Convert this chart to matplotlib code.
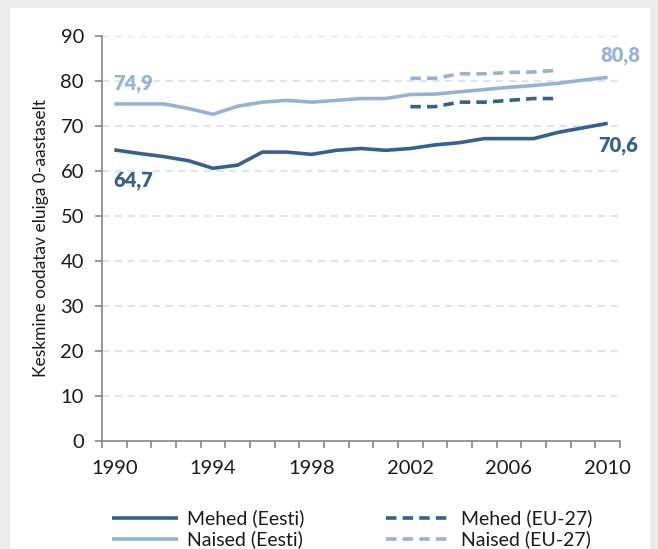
import matplotlib.pyplot as plt
import matplotlib.patches as mpatches
import numpy as np

plt.rcParams['font.family'] = ['Lato', 'DejaVu Sans']

# data
years = np.arange(1990, 2011)
mehed_eesti = [64.7, 63.9, 63.2, 62.3, 60.6, 61.3, 64.2, 64.2, 63.7, 64.6, 65.0,
               64.6, 65.0, 65.8, 66.3, 67.2, 67.2, 67.2, 68.6, 69.6, 70.6]
naised_eesti = [74.9, 74.9, 74.9, 73.9, 72.6, 74.4, 75.3, 75.7, 75.3, 75.7, 76.1,
                76.1, 77.0, 77.1, 77.6, 78.1, 78.6, 79.0, 79.5, 80.2, 80.8]
eu_years = np.arange(2002, 2009)
mehed_eu = [74.3, 74.3, 75.3, 75.3, 75.7, 76.1, 76.1]
naised_eu = [80.6, 80.6, 81.6, 81.6, 81.9, 82.0, 82.4]

dark = "#376092"
light = "#95b3d7"
grid_col = "#dce6f2"
axis_col = "#868686"
text_col = "#1a1a1a"

W, H = 658, 549
fig = plt.figure(figsize=(W / 100, H / 100), dpi=100, facecolor="#ebebeb")
# white panel behind everything
fig.patches.append(mpatches.Rectangle((10 / W, 0), 640 / W, 1 - 8 / H,
                                      transform=fig.transFigure, facecolor="white",
                                      edgecolor="none", zorder=-10))

ax = fig.add_axes([102 / W, 1 - 441 / H, 518 / W, 405 / H])
ax.set_zorder(2)
ax.set_facecolor("none")

l1, = ax.plot(years, mehed_eesti, color=dark, lw=2.6, label="Mehed (Eesti)",
              solid_capstyle="butt", zorder=3)
l2, = ax.plot(eu_years, mehed_eu, color=dark, lw=2.6, ls=(0, (2.9, 1.7)),
              label="Mehed (EU-27)", zorder=3)
l3, = ax.plot(years, naised_eesti, color=light, lw=2.6, label="Naised (Eesti)",
              solid_capstyle="butt", zorder=3)
l4, = ax.plot(eu_years, naised_eu, color=light, lw=2.6, ls=(0, (2.9, 1.7)),
              label="Naised (EU-27)", zorder=3)

# end value labels
fs = 14.5
ax.annotate("74,9", (years[0], naised_eesti[0]), xytext=(-1, 8), textcoords="offset points",
            ha="left", va="bottom", color=light, fontsize=fs, fontweight="heavy")
ax.annotate("64,7", (years[0], mehed_eesti[0]), xytext=(-1, -15), textcoords="offset points",
            ha="left", va="top", color=dark, fontsize=fs, fontweight="heavy")
ax.annotate("80,8", (years[-1], naised_eesti[-1]), xytext=(-5, 9), textcoords="offset points",
            ha="left", va="bottom", color=light, fontsize=fs, fontweight="heavy",
            annotation_clip=False)
ax.annotate("70,6", (years[-1], mehed_eesti[-1]), xytext=(-7, -9), textcoords="offset points",
            ha="left", va="top", color=dark, fontsize=fs, fontweight="heavy",
            annotation_clip=False)

ax.set_xlim(1989.5, 2010.5)
ax.set_ylim(0, 90)
ax.set_yticks(np.arange(0, 91, 10))
ax.set_xticks(np.arange(1990, 2011, 4))
ax.set_xticks(np.arange(1989.5, 2011, 1), minor=True)

for y in range(10, 91, 10):
    ax.axhline(y, color=grid_col, lw=1.5, ls=(0, (3.5, 2.6)), zorder=1)

for s in ["top", "right"]:
    ax.spines[s].set_visible(False)
for s in ["left", "bottom"]:
    ax.spines[s].set_color(axis_col)
    ax.spines[s].set_linewidth(1.2)

ax.tick_params(axis="x", which="major", length=0, pad=14, labelsize=14.5, labelcolor=text_col)
ax.tick_params(axis="x", which="minor", length=5, width=1.2, color=axis_col, direction="out")
ax.tick_params(axis="y", length=5, width=1.2, color=axis_col, direction="out",
               pad=8, labelsize=14.5, labelcolor=text_col)

ax.set_ylabel("Keskmine oodatav eluiga 0-aastaselt", fontsize=12.5, color=text_col,
              labelpad=8)

fig.legend([l1, l3, l2, l4], [l.get_label() for l in (l1, l3, l2, l4)],
           loc="center", bbox_to_anchor=(352 / W, 1 - 529 / H), ncol=2,
           frameon=False, fontsize=14, handlelength=3.4, columnspacing=4.2,
           handletextpad=0.45, labelspacing=0.15, labelcolor=text_col)

fig.savefig("out.png", dpi=100, facecolor=fig.get_facecolor())
